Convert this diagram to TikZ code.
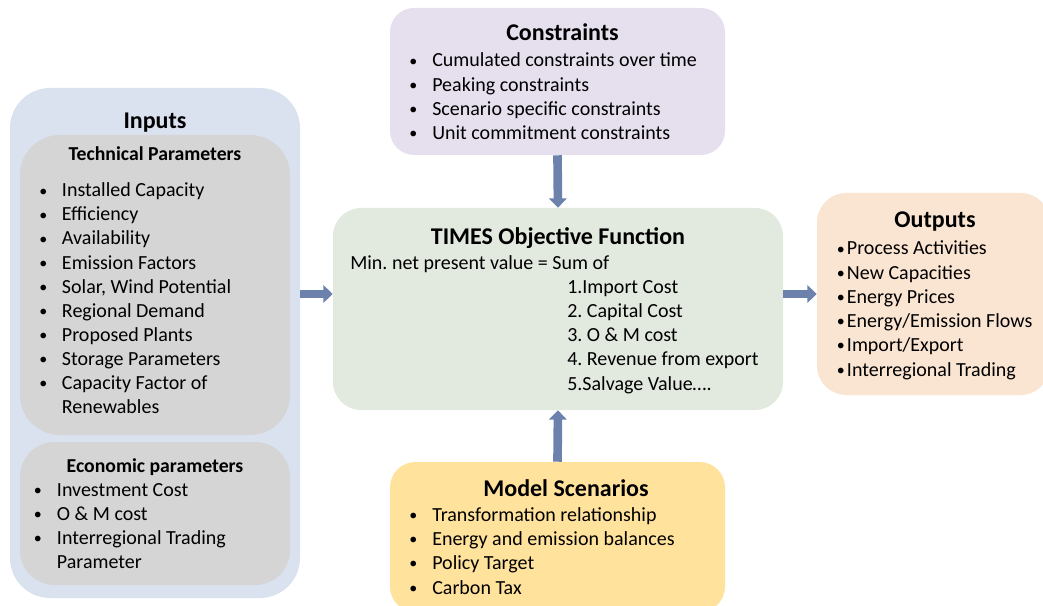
\documentclass[tikz,border=0pt]{standalone}
\usepackage{fontspec}
\setmainfont{Carlito}
\usetikzlibrary{arrows.meta}

\definecolor{inpblue}{HTML}{DAE2EF}
\definecolor{pargray}{HTML}{D5D5D5}
\definecolor{conlilac}{HTML}{E6E0EE}
\definecolor{timgreen}{HTML}{E2E9DF}
\definecolor{outpeach}{HTML}{FAE4D2}
\definecolor{scngold}{HTML}{FFE29C}
\definecolor{arrblue}{HTML}{6C82AD}

% small bullet centred in a 7.5pt box, then a gap before the item text
\newcommand{\bul}[1]{\makebox[7.5pt][c]{\raisebox{0.7pt}{\fontsize{12}{10}\selectfont\textbullet}}\hspace{#1}}

\tikzset{
    box/.style={inner sep=0pt, draw=none},
    ttl/.style={font=\fontsize{18}{21.6}\selectfont\bfseries, anchor=base, inner sep=0pt},
    sub/.style={font=\fontsize{14.8}{18}\selectfont\bfseries, anchor=base, inner sep=0pt},
    itm/.style={font=\fontsize{15}{18}\selectfont, anchor=base west, inner sep=0pt},
    arr/.style={draw=arrblue, line width=6.5pt, -{Triangle[width=13pt,length=7pt]}}
}

\begin{document}
\frenchspacing
\begin{tikzpicture}[x=0.75pt,y=-0.75pt]
    \useasboundingbox (0,0) rectangle (1043,606);

    % boxes
    \node[box, fill=inpblue, rounded corners=30pt, minimum width=217.5pt, minimum height=382.5pt] (inp) at (155,343) {};
    \node[box, fill=pargray, rounded corners=30pt, minimum width=202.5pt, minimum height=225pt] (tec) at (155,285) {};
    \node[box, fill=pargray, rounded corners=26pt, minimum width=202.5pt, minimum height=107.25pt] (eco) at (155,513.5) {};
    \node[box, fill=conlilac, rounded corners=18pt, minimum width=251.25pt, minimum height=110.25pt] (con) at (557.5,81.5) {};
    \node[box, fill=timgreen, rounded corners=21pt, minimum width=337.5pt, minimum height=151.5pt] (tim) at (558,309) {};
    \node[box, fill=scngold, rounded corners=19pt, minimum width=251.25pt, minimum height=112.5pt] (scn) at (557.5,537) {};
    \node[box, fill=outpeach, rounded corners=22pt, minimum width=174.75pt, minimum height=151.5pt] (out) at (933.5,294) {};

    % arrows
    \draw[arr] (inp.east |- out.west) -- (tim.west |- out.west);
    \draw[arr] (tim.east |- out.west) -- (out.west);
    \draw[arr] (con.south) -- (tim.north);
    \draw[arr] (scn.north) -- (tim.south);

    % inputs
    \node[ttl] (inpt) at (155,129) {Inputs};
    \node[sub] (tect) at (155,161) {Technical Parameters};
    \foreach \t [count=\i from 0] in {Installed Capacity, Efficiency, Availability,
        Emission Factors, {Solar, Wind Potential}, Regional Demand, Proposed Plants,
        Storage Parameters, Capacity Factor of}
        \node[itm] (tec\i) at (38,197+24*\i) {\bul{10.3pt}\t};
    \node[itm] (tec9) at (61.7,413) {Renewables};

    \node[sub] (ecot) at (155,472) {Economic parameters};
    \foreach \t [count=\i from 0] in {Investment Cost, O \& M cost, Interregional Trading}
        \node[itm] (eco\i) at (32.7,496+24*\i) {\bul{10.5pt}\t};
    \node[itm] (eco3) at (56.7,568) {Parameter};

    % constraints
    \node[ttl] (cont) at (562.5,41) {Constraints};
    \foreach \t [count=\i from 0] in {Cumulated constraints over time, Peaking constraints,
        Scenario specific constraints, Unit commitment constraints}
        \node[itm] (con\i) at (408,67+24.1*\i) {\bul{10.5pt}\t};

    % objective
    \node[ttl] (timt) at (558,244.5) {TIMES Objective Function};
    \node[itm] (tim0) at (350,269.5) {Min. net present value = Sum of};
    \foreach \t [count=\i from 1] in {1.Import Cost, 2. Capital Cost, 3. O \& M cost,
        4. Revenue from export, 5.Salvage Value….}
        \node[itm] (tim\i) at (567,269.5+24.1*\i) {\t};

    % scenarios
    \node[ttl] (scnt) at (566,496.5) {Model Scenarios};
    \foreach \t [count=\i from 0] in {Transformation relationship,
        Energy and emission balances, Policy Target, Carbon Tax}
        \node[itm] (scn\i) at (408,521.5+24.2*\i) {\bul{10.5pt}\t};

    % outputs
    \node[ttl] (outt) at (935,228) {Outputs};
    \foreach \t [count=\i from 0] in {Process Activities, New Capacities, Energy Prices,
        Energy/Emission Flows, Import/Export, Interregional Trading}
        \node[itm] (out\i) at (835.5,255+24.2*\i) {\bul{0.9pt}\t};
\end{tikzpicture}
\end{document}
